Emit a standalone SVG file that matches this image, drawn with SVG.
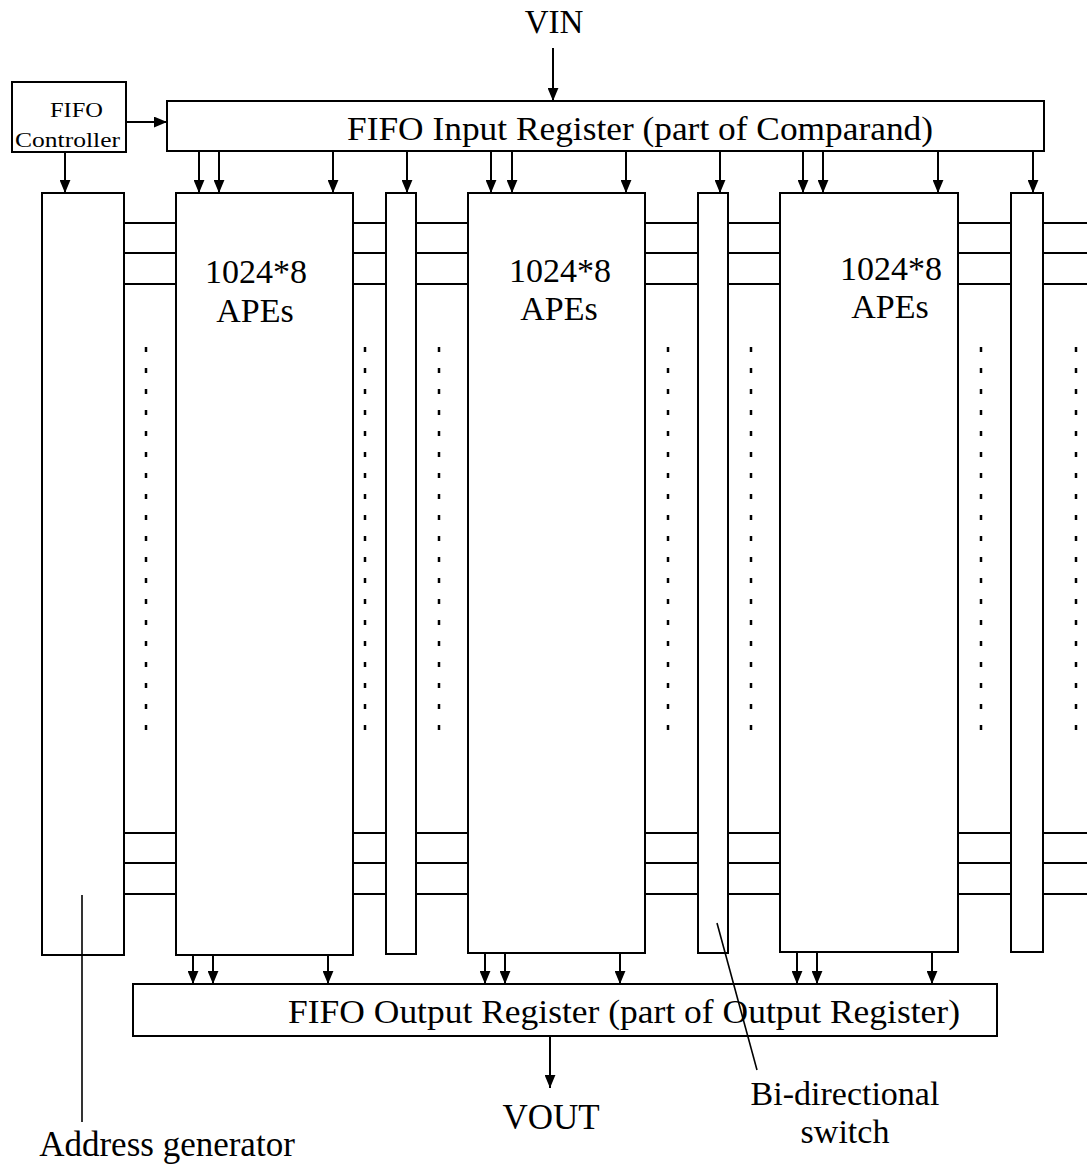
<svg xmlns="http://www.w3.org/2000/svg" width="1087" height="1166" viewBox="0 0 1087 1166">
<style>
.box{fill:#fff;stroke:#000;stroke-width:2}
.ln{stroke:#000;stroke-width:2;fill:none}
.arr{stroke:#000;stroke-width:2;fill:none;marker-end:url(#ah)}
.dot{stroke:#000;stroke-width:2.5;stroke-dasharray:5 16;fill:none}
.ptr{stroke:#000;stroke-width:1.6;fill:none}
.t{font-family:"Liberation Serif","Times New Roman",serif;fill:#000}
</style>
<defs>
<marker id="ah" viewBox="0 0 12 10" refX="12" refY="5" markerWidth="13" markerHeight="11" markerUnits="userSpaceOnUse" orient="auto">
<path d="M0,0 L12,5 L0,10 z" fill="#000"/>
</marker>
</defs>

<g id="vin"><text class="t" x="554" y="33" font-size="33" text-anchor="middle">VIN</text></g>

<g id="fifo-controller">
<rect class="box" x="12" y="82" width="114" height="70"/>
<text class="t" x="50" y="117" font-size="21" textLength="53" lengthAdjust="spacingAndGlyphs">FIFO</text>
<text class="t" x="15" y="147" font-size="21" textLength="105" lengthAdjust="spacingAndGlyphs">Controller</text>
</g>

<g id="fifo-input-register">
<rect class="box" x="167" y="101" width="877" height="50"/>
<text class="t" x="347" y="140" font-size="34" textLength="586" lengthAdjust="spacingAndGlyphs">FIFO Input Register (part of Comparand)</text>
</g>

<g id="address-generator"><rect class="box" x="42" y="193" width="82" height="762"/></g>

<g id="ape1">
<rect class="box" x="176" y="193" width="177" height="762"/>
<text class="t" x="256" y="283" font-size="34" text-anchor="middle">1024*8</text>
<text class="t" x="255" y="322" font-size="34" text-anchor="middle">APEs</text>
</g>
<g id="switch1"><rect class="box" x="386" y="193" width="30" height="761"/></g>

<g id="ape2">
<rect class="box" x="468" y="193" width="177" height="760"/>
<text class="t" x="560" y="282" font-size="34" text-anchor="middle">1024*8</text>
<text class="t" x="559" y="320" font-size="34" text-anchor="middle">APEs</text>
</g>
<g id="switch2"><rect class="box" x="698" y="193" width="30" height="760"/></g>

<g id="ape3">
<rect class="box" x="780" y="193" width="178" height="759"/>
<text class="t" x="891" y="280" font-size="34" text-anchor="middle">1024*8</text>
<text class="t" x="890" y="318" font-size="34" text-anchor="middle">APEs</text>
</g>
<g id="switch3"><rect class="box" x="1011" y="193" width="32" height="759"/></g>

<g id="fifo-output-register">
<rect class="box" x="133" y="984" width="864" height="52"/>
<text class="t" x="288" y="1023" font-size="34" textLength="672" lengthAdjust="spacingAndGlyphs">FIFO Output Register (part of Output Register)</text>
</g>

<g id="vout"><text class="t" x="551" y="1129" font-size="35" text-anchor="middle">VOUT</text></g>

<g id="label-switch">
<text class="t" x="845" y="1105" font-size="34" text-anchor="middle">Bi-directional</text>
<text class="t" x="845" y="1143" font-size="34" text-anchor="middle">switch</text>
</g>

<g id="label-address"><text class="t" x="167" y="1156" font-size="35" text-anchor="middle">Address generator</text></g>

<g id="connectors">
<path class="ln" d="M124,223H176M353,223H386M416,223H468M645,223H698M728,223H780M958,223H1011M1043,223H1087
M124,253H176M353,253H386M416,253H468M645,253H698M728,253H780M958,253H1011M1043,253H1087
M124,284H176M353,284H386M416,284H468M645,284H698M728,284H780M958,284H1011M1043,284H1087
M124,833H176M353,833H386M416,833H468M645,833H698M728,833H780M958,833H1011M1043,833H1087
M124,863H176M353,863H386M416,863H468M645,863H698M728,863H780M958,863H1011M1043,863H1087
M124,894H176M353,894H386M416,894H468M645,894H698M728,894H780M958,894H1011M1043,894H1087"/>
<path class="dot" d="M146,347V730M365,347V730M439,347V730M668,347V730M751,347V730M981,347V730M1076,347V730"/>
<line class="arr" x1="553" y1="48" x2="553" y2="101"/>
<line class="arr" x1="126" y1="122" x2="167" y2="122"/>
<line class="arr" x1="65" y1="152" x2="65" y2="193"/>
<line class="arr" x1="199" y1="151" x2="199" y2="193"/>
<line class="arr" x1="219" y1="151" x2="219" y2="193"/>
<line class="arr" x1="333" y1="151" x2="333" y2="193"/>
<line class="arr" x1="407" y1="151" x2="407" y2="193"/>
<line class="arr" x1="491" y1="151" x2="491" y2="193"/>
<line class="arr" x1="512" y1="151" x2="512" y2="193"/>
<line class="arr" x1="626" y1="151" x2="626" y2="193"/>
<line class="arr" x1="720" y1="151" x2="720" y2="193"/>
<line class="arr" x1="803" y1="151" x2="803" y2="193"/>
<line class="arr" x1="823" y1="151" x2="823" y2="193"/>
<line class="arr" x1="938" y1="151" x2="938" y2="193"/>
<line class="arr" x1="1033" y1="151" x2="1033" y2="193"/>
<line class="arr" x1="193" y1="955" x2="193" y2="984"/>
<line class="arr" x1="213" y1="955" x2="213" y2="984"/>
<line class="arr" x1="328" y1="955" x2="328" y2="984"/>
<line class="arr" x1="485" y1="953" x2="485" y2="984"/>
<line class="arr" x1="505" y1="953" x2="505" y2="984"/>
<line class="arr" x1="620" y1="953" x2="620" y2="984"/>
<line class="arr" x1="797" y1="952" x2="797" y2="984"/>
<line class="arr" x1="817" y1="952" x2="817" y2="984"/>
<line class="arr" x1="932" y1="952" x2="932" y2="984"/>
<line class="arr" x1="550" y1="1036" x2="550" y2="1088"/>
<line class="ptr" x1="82" y1="895" x2="82" y2="1122"/>
<line class="ptr" x1="717" y1="923" x2="757" y2="1070"/>
</g>
</svg>
